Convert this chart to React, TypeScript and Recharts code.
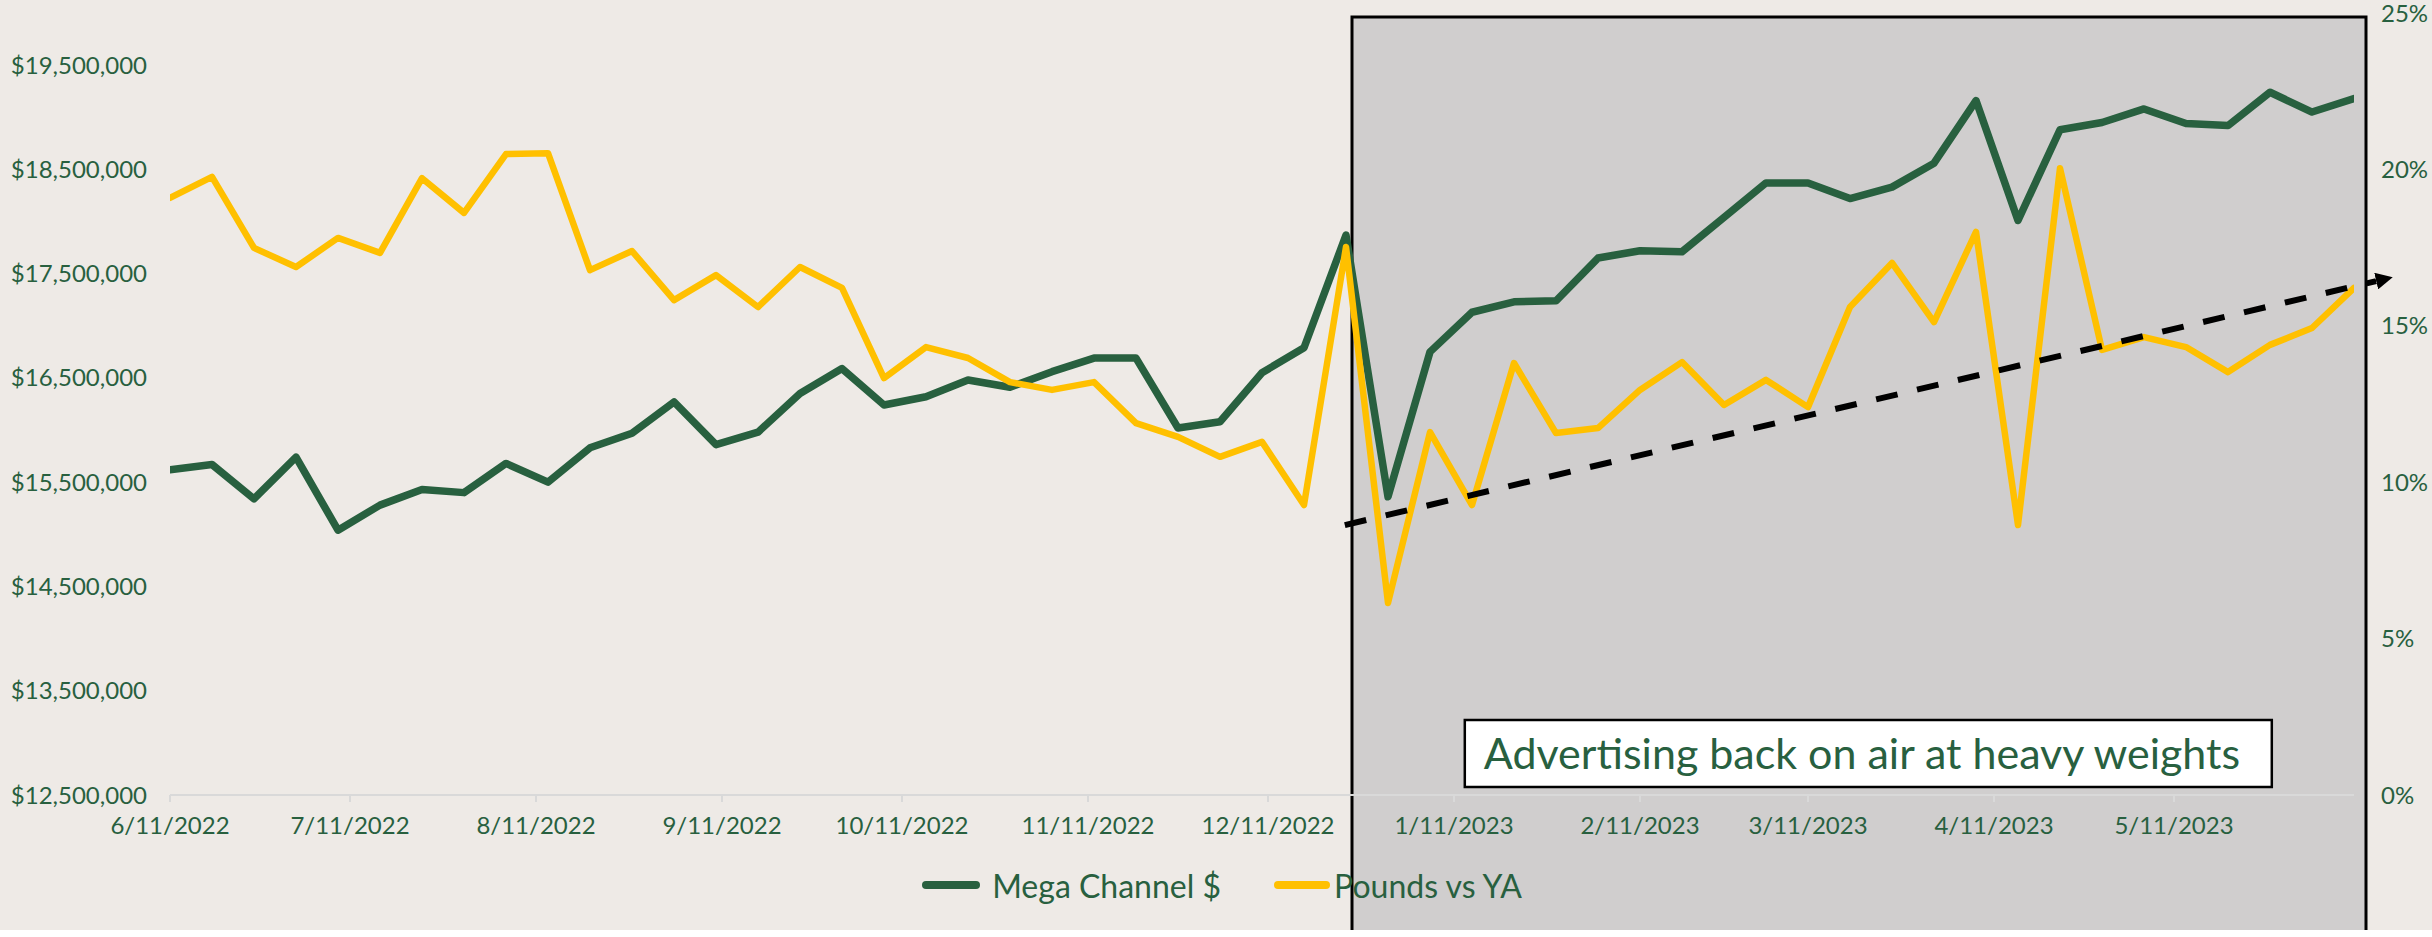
import React from 'react';
import { LineChart, Line, XAxis, YAxis, ReferenceArea, ReferenceLine, Legend, Label } from 'recharts';

const GREEN = '#28603F';
const YELLOW = '#FFC000';
const BG = '#EEEAE6';
const BOX = '#D0CECE';
const FONT = 'Lato';

const dates = [
  '2022-06-11', '2022-06-18', '2022-06-25', '2022-07-02', '2022-07-09', '2022-07-16', '2022-07-23', '2022-07-30',
  '2022-08-06', '2022-08-13', '2022-08-20', '2022-08-27', '2022-09-03', '2022-09-10', '2022-09-17', '2022-09-24',
  '2022-10-01', '2022-10-08', '2022-10-15', '2022-10-22', '2022-10-29', '2022-11-05', '2022-11-12', '2022-11-19',
  '2022-11-26', '2022-12-03', '2022-12-10', '2022-12-17', '2022-12-24', '2022-12-31', '2023-01-07', '2023-01-14',
  '2023-01-21', '2023-01-28', '2023-02-04', '2023-02-11', '2023-02-18', '2023-02-25', '2023-03-04', '2023-03-11',
  '2023-03-18', '2023-03-25', '2023-04-01', '2023-04-08', '2023-04-15', '2023-04-22', '2023-04-29', '2023-05-06',
  '2023-05-13', '2023-05-20', '2023-05-27', '2023-06-03', '2023-06-10',
];

// Mega Channel $ (left axis)
const megaChannel = [
  15620000, 15670000, 15340000, 15740000, 15040000, 15280000, 15430000, 15400000,
  15680000, 15500000, 15830000, 15970000, 16270000, 15860000, 15980000, 16350000,
  16590000, 16240000, 16320000, 16480000, 16410000, 16560000, 16690000, 16690000,
  16020000, 16080000, 16550000, 16790000, 17870000, 15360000, 16750000, 17130000,
  17230000, 17240000, 17650000, 17720000, 17710000, 18040000, 18370000, 18370000,
  18220000, 18330000, 18560000, 19160000, 18010000, 18880000, 18950000, 19080000,
  18940000, 18920000, 19240000, 19050000, 19180000,
];

// Pounds vs YA, % (right axis)
const poundsVsYA = [
  19.09, 19.76, 17.49, 16.88, 17.81, 17.33, 19.72, 18.61,
  20.49, 20.52, 16.78, 17.39, 15.82, 16.62, 15.60, 16.88,
  16.21, 13.33, 14.32, 13.97, 13.20, 12.95, 13.20, 11.89,
  11.45, 10.81, 11.29, 9.27, 17.52, 6.14, 11.60, 9.27,
  13.81, 11.57, 11.73, 12.95, 13.84, 12.47, 13.27, 12.40,
  15.60, 17.01, 15.12, 18.00, 8.63, 20.04, 14.23, 14.64,
  14.32, 13.52, 14.39, 14.93, 16.21,
];

const xTickDates = [
  '2022-06-11', '2022-07-11', '2022-08-11', '2022-09-11', '2022-10-11', '2022-11-11',
  '2022-12-11', '2023-01-11', '2023-02-11', '2023-03-11', '2023-04-11', '2023-05-11',
];
const xTickLabels = [
  '6/11/2022', '7/11/2022', '8/11/2022', '9/11/2022', '10/11/2022', '11/11/2022',
  '12/11/2022', '1/11/2023', '2/11/2023', '3/11/2023', '4/11/2023', '5/11/2023',
];
const leftTicks = [12500000, 13500000, 14500000, 15500000, 16500000, 17500000, 18500000, 19500000];
const rightTicks = [0, 5, 10, 15, 20, 25];

const seriesNames = ['Mega Channel $', 'Pounds vs YA'];
const annotationText = 'Advertising back on air at heavy weights';

const DAY = 86400000;
const t0 = Date.parse(dates[0]);
const tEnd = Date.parse(dates[dates.length - 1]);
const xTicks = xTickDates.map((d) => Date.parse(d));

const data = dates.map((d, i) => ({ t: Date.parse(d), mega: megaChannel[i], pounds: poundsVsYA[i] }));

// annotation geometry in data space
const shadeX1 = t0 + 197 * DAY;
const shadeX2 = t0 + 366 * DAY;
const shadeY1 = 11186000;
const shadeY2 = 19962000;
const noteX1 = t0 + 215.8 * DAY;
const noteX2 = t0 + 350.3 * DAY;
const noteY1 = 12577000;
const noteY2 = 13219000;
const trendStart = { x: t0 + 195.8 * DAY, y: 8.63 };
const trendEnd = { x: t0 + 367.7 * DAY, y: 16.43 };

const formatDollar = (v: number) => '$' + v.toLocaleString('en-US');
const formatDate = (v: number) => {
  const idx = xTicks.indexOf(v);
  return idx >= 0 ? xTickLabels[idx] : '';
};

const TrendShape = (props: any) => {
  const { x1, y1, x2, y2 } = props;
  return (
    <g>
      <defs>
        <marker id="trendArrow" viewBox="0 0 10 10" refX="0" refY="5" markerWidth="17" markerHeight="17" orient="auto" markerUnits="userSpaceOnUse">
          <path d="M0,0 L10,5 L0,10 z" fill="#000" />
        </marker>
      </defs>
      <line x1={x1} y1={y1} x2={x2} y2={y2} stroke="#000" strokeWidth={6} strokeDasharray="22 20" markerEnd="url(#trendArrow)" />
    </g>
  );
};

const LegendContent = () => (
  <div style={{ display: 'flex', justifyContent: 'center', alignItems: 'center', height: 40, fontFamily: FONT, fontSize: 32, color: GREEN, paddingLeft: 12 }}>
    <div style={{ width: 58, height: 8, borderRadius: 4, background: GREEN, marginRight: 12 }} />
    <span>{seriesNames[0]}</span>
    <div style={{ width: 56, height: 8, borderRadius: 4, background: YELLOW, marginLeft: 53, marginRight: 4 }} />
    <span>{seriesNames[1]}</span>
  </div>
);

export default function App() {
  const tickStyle = { fill: GREEN, fontSize: 24, fontFamily: FONT };
  return (
    <div style={{ position: 'absolute', left: 0, top: 0, width: 2432, height: 930, background: BG, fontFamily: FONT }}>
      <LineChart width={2432} height={930} data={data} margin={{ top: 13, right: 0, bottom: 25, left: 0 }}>
        <XAxis
          dataKey="t"
          type="number"
          domain={[t0, tEnd]}
          ticks={xTicks}
          interval={0}
          tickFormatter={formatDate}
          allowDataOverflow
          axisLine={{ stroke: '#D9D9D9', strokeWidth: 2 }}
          tickLine={{ stroke: '#D9D9D9', strokeWidth: 2 }}
          tickSize={7}
          tickMargin={15}
          tick={tickStyle}
          height={70}
        />
        <YAxis
          yAxisId="left"
          orientation="left"
          domain={[12500000, 20000000]}
          ticks={leftTicks}
          interval={0}
          allowDataOverflow
          tickFormatter={formatDollar}
          axisLine={false}
          tickLine={false}
          tickSize={0}
          tickMargin={23}
          tick={tickStyle}
          width={170}
        />
        <YAxis
          yAxisId="right"
          orientation="right"
          domain={[0, 25]}
          ticks={rightTicks}
          interval={0}
          allowDataOverflow
          tickFormatter={(v: number) => `${v}%`}
          axisLine={false}
          tickLine={false}
          tickSize={0}
          tickMargin={27}
          tick={tickStyle}
          width={78}
        />
        <ReferenceArea
          yAxisId="left"
          x1={shadeX1}
          x2={shadeX2}
          y1={shadeY1}
          y2={shadeY2}
          ifOverflow="visible"
          fill={BOX}
          fillOpacity={1}
          stroke="#000"
          strokeWidth={3}
        />
        <ReferenceArea
          yAxisId="left"
          x1={noteX1}
          x2={noteX2}
          y1={noteY1}
          y2={noteY2}
          ifOverflow="visible"
          fill="#FFFFFF"
          fillOpacity={1}
          stroke="#000"
          strokeWidth={2.5}
          label={<Label value={annotationText} position="insideLeft" offset={19} fill={GREEN} fontSize={43} fontFamily={FONT} />}
        />
        <Line
          yAxisId="left"
          type="linear"
          dataKey="mega"
          name={seriesNames[0]}
          stroke={GREEN}
          strokeWidth={7.5}
          dot={false}
          strokeLinejoin="round"
          strokeLinecap="round"
          isAnimationActive={false}
        />
        <Line
          yAxisId="right"
          type="linear"
          dataKey="pounds"
          name={seriesNames[1]}
          stroke={YELLOW}
          strokeWidth={6.5}
          dot={false}
          strokeLinejoin="round"
          strokeLinecap="round"
          isAnimationActive={false}
        />
        <ReferenceLine
          yAxisId="right"
          segment={[trendStart, trendEnd]}
          ifOverflow="visible"
          shape={TrendShape}
        />
        <Legend verticalAlign="bottom" height={40} content={LegendContent} />
      </LineChart>
    </div>
  );
}
